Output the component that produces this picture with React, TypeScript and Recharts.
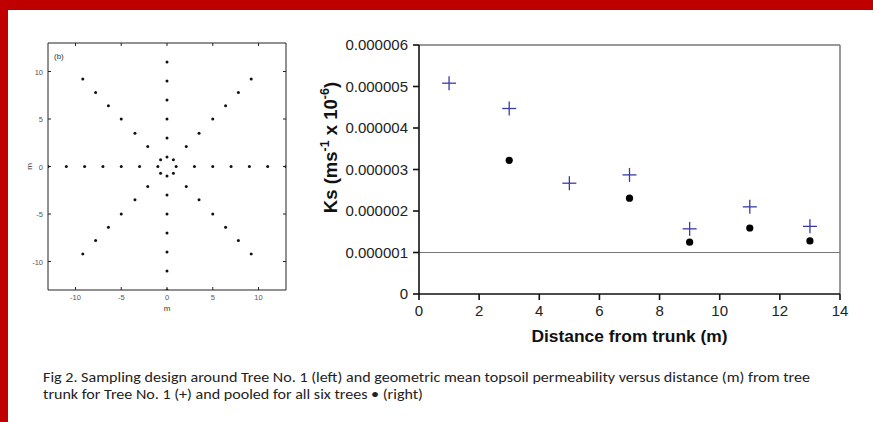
import React from 'react';
import { ScatterChart, Scatter, XAxis, YAxis, ReferenceLine } from 'recharts';

// (b) sampling design around Tree No. 1, distances in m
const axisSteps = [1, 3, 5, 7, 9, 11, 13];
const northSteps = [1, 3, 5, 7, 9, 11];
const diagSteps = [0.7, 2.1, 3.5, 5, 6.4, 7.8, 9.2];
const designTicks = [-10, -5, 0, 5, 10];

// Ks vs distance from trunk
const distance = [1, 3, 5, 7, 9, 11, 13];
const tree1Ks = [0.00000508, 0.00000447, 0.00000267, 0.00000287, 0.00000157, 0.0000021, 0.00000163];
const pooledDistance = [3, 7, 9, 11, 13];
const pooledKs = [0.00000322, 0.00000231, 0.00000125, 0.00000159, 0.00000128];
const distanceTicks = [0, 2, 4, 6, 8, 10, 12, 14];
const ksTicks = [0, 0.000001, 0.000002, 0.000003, 0.000004, 0.000005, 0.000006];
const ksThreshold = 0.000001;

const samplePoints = [
  ...axisSteps.map((r) => ({ x: r, y: 0 })),
  ...axisSteps.map((r) => ({ x: -r, y: 0 })),
  ...northSteps.map((r) => ({ x: 0, y: r })),
  ...axisSteps.map((r) => ({ x: 0, y: -r })),
  ...diagSteps.flatMap((d) => [
    { x: d, y: d },
    { x: -d, y: d },
    { x: d, y: -d },
    { x: -d, y: -d },
  ]),
];

const tree1 = distance.map((x, i) => ({ x, y: tree1Ks[i] }));
const pooled = pooledDistance.map((x, i) => ({ x, y: pooledKs[i] }));

const arial = '"Liberation Sans", Arial, sans-serif';
const blue = '#3a3aa8';

function DesignTick(props: any) {
  const { x, y, payload, side } = props;
  const len = 3;
  const stroke = '#222';
  const txt = { fontSize: 7.5, fill: '#555', fontFamily: arial };
  if (side === 'bottom') {
    return (
      <g>
        <line x1={x} x2={x} y1={y} y2={y - len} stroke={stroke} />
        <text x={x} y={y + 10} textAnchor="middle" {...txt}>{payload.value}</text>
      </g>
    );
  }
  if (side === 'left') {
    return (
      <g>
        <line x1={x} x2={x + len} y1={y} y2={y} stroke={stroke} />
        <text x={x - 5} y={y + 3} textAnchor="end" {...txt}>{payload.value}</text>
      </g>
    );
  }
  if (side === 'top') return <line x1={x} x2={x} y1={y} y2={y + len} stroke={stroke} />;
  return <line x1={x} x2={x - len} y1={y} y2={y} stroke={stroke} />;
}

const PlusShape = (props: any) => {
  const { cx, cy } = props;
  const h = 7;
  return (
    <g stroke={blue} strokeWidth={1.3}>
      <line x1={cx - h} x2={cx + h} y1={cy} y2={cy} />
      <line x1={cx} x2={cx} y1={cy - h} y2={cy + h} />
    </g>
  );
};

const DotShape = (props: any) => <circle cx={props.cx} cy={props.cy} r={3.6} fill="#000" />;

const SampleDot = (props: any) => <circle cx={props.cx} cy={props.cy} r={1.5} fill="#111" />;

const NoShape = () => <g />;

function DesignPanel() {
  return (
    <ScatterChart
      width={300}
      height={320}
      margin={{ top: 42, right: 13, bottom: 2, left: 8 }}
      style={{ position: 'absolute', left: 0, top: 0 }}
    >
      <XAxis
        xAxisId="b"
        type="number"
        dataKey="x"
        domain={[-13, 13]}
        allowDataOverflow
        ticks={designTicks}
        interval={0}
        height={28}
        tickSize={0}
        tickMargin={0}
        tickLine={false}
        axisLine={{ stroke: '#222' }}
        tick={(p: any) => <DesignTick {...p} side="bottom" />}
        label={{
          content: ({ viewBox }: any) => (
            <text x={viewBox.x + viewBox.width / 2} y={viewBox.y + 21} textAnchor="middle" fontSize={8} fill="#333" fontFamily={arial}>m</text>
          ),
        }}
      />
      <XAxis
        xAxisId="t"
        orientation="top"
        type="number"
        dataKey="x"
        domain={[-13, 13]}
        allowDataOverflow
        ticks={designTicks}
        interval={0}
        height={1}
        tickSize={0}
        tickMargin={0}
        tickLine={false}
        axisLine={{ stroke: '#222' }}
        tick={(p: any) => <DesignTick {...p} side="top" />}
        label={{
          content: ({ viewBox }: any) => (
            <text x={viewBox.x + 6} y={viewBox.y + 17} fontSize={8} fill="#333" fontFamily={arial}>(b)</text>
          ),
        }}
      />
      <YAxis
        yAxisId="l"
        type="number"
        dataKey="y"
        domain={[-13, 13]}
        allowDataOverflow
        ticks={designTicks}
        interval={0}
        width={40}
        tickSize={0}
        tickMargin={0}
        tickLine={false}
        axisLine={{ stroke: '#222' }}
        tick={(p: any) => <DesignTick {...p} side="left" />}
        label={{
          content: ({ viewBox }: any) => (
            <text
              x={viewBox.x + 24}
              y={viewBox.y + viewBox.height / 2}
              transform={`rotate(-90, ${viewBox.x + 24}, ${viewBox.y + viewBox.height / 2})`}
              textAnchor="middle"
              fontSize={8}
              fill="#333"
              fontFamily={arial}
            >
              m
            </text>
          ),
        }}
      />
      <YAxis
        yAxisId="r"
        orientation="right"
        type="number"
        dataKey="y"
        domain={[-13, 13]}
        allowDataOverflow
        ticks={designTicks}
        interval={0}
        width={1}
        tickSize={0}
        tickMargin={0}
        tickLine={false}
        axisLine={{ stroke: '#222' }}
        tick={(p: any) => <DesignTick {...p} side="right" />}
      />
      <Scatter xAxisId="t" yAxisId="r" data={samplePoints} shape={NoShape} isAnimationActive={false} />
      <Scatter xAxisId="b" yAxisId="l" data={samplePoints} shape={SampleDot} isAnimationActive={false} />
    </ScatterChart>
  );
}

function KsPanel() {
  return (
    <ScatterChart
      width={583}
      height={360}
      margin={{ top: 45, right: 33, bottom: 16, left: 39 }}
      style={{ position: 'absolute', left: 290, top: 0 }}
    >
      <XAxis
        type="number"
        dataKey="x"
        domain={[0, 14]}
        ticks={distanceTicks}
        interval={0}
        height={50}
        tickSize={6}
        tickMargin={5}
        axisLine={{ stroke: '#111', strokeWidth: 1.6 }}
        tickLine={{ stroke: '#111', strokeWidth: 1.6 }}
        tick={{ fontSize: 15, fill: '#222', fontFamily: arial }}
        label={{
          content: ({ viewBox }: any) => (
            <text x={viewBox.x + viewBox.width / 2} y={342} textAnchor="middle" fontSize={17.4} fontWeight="bold" fill="#111" fontFamily={arial}>
              Distance from trunk (m)
            </text>
          ),
        }}
      />
      <YAxis
        type="number"
        dataKey="y"
        domain={[0, 0.000006]}
        ticks={ksTicks}
        interval={0}
        width={90}
        tickSize={6}
        tickMargin={5}
        tickFormatter={(v: number) => (v === 0 ? '0' : v.toFixed(6))}
        axisLine={{ stroke: '#111', strokeWidth: 1.6 }}
        tickLine={{ stroke: '#111', strokeWidth: 1.6 }}
        tick={{ fontSize: 15, fill: '#222', fontFamily: arial }}
        label={{
          content: ({ viewBox }: any) => {
            const lx = viewBox.x + 8;
            const ly = 147.5;
            return (
              <text
                x={lx}
                y={ly}
                transform={`rotate(-90, ${lx}, ${ly})`}
                textAnchor="middle"
                fontSize={18.5}
                fontWeight="bold"
                fill="#111"
                fontFamily={arial}
              >
                Ks (ms
                <tspan fontSize={12.5} dy={-8}>-1</tspan>
                <tspan dy={8}> x 10</tspan>
                <tspan fontSize={12.5} dy={-8}>-6</tspan>
                <tspan dy={8}>)</tspan>
              </text>
            );
          },
        }}
      />
      <ReferenceLine y={0.000006} stroke="#777" strokeWidth={1.5} />
      <ReferenceLine x={14} stroke="#777" strokeWidth={1.5} />
      <ReferenceLine y={ksThreshold} stroke="#777" strokeWidth={1.2} />
      <Scatter data={tree1} shape={PlusShape} isAnimationActive={false} />
      <Scatter data={pooled} shape={DotShape} isAnimationActive={false} />
    </ScatterChart>
  );
}

export default function App() {
  const captionFont = 'Carlito, "Liberation Sans Narrow", "Open Sans", sans-serif';
  return (
    <div style={{ position: 'absolute', left: 0, top: 0, width: 873, height: 422, background: '#fff', overflow: 'hidden' }}>
      <div style={{ position: 'absolute', left: 0, top: 0, width: 873, height: 10, background: '#c00000' }} />
      <div style={{ position: 'absolute', left: 0, top: 0, width: 8, height: 422, background: '#c00000' }} />
      <DesignPanel />
      <KsPanel />
      <svg width={873} height={422} style={{ position: 'absolute', left: 0, top: 0, pointerEvents: 'none' }}>
        <text x={43} y={381.5} fontSize={14.7} fill="#222" fontFamily={captionFont} textLength={767} lengthAdjust="spacingAndGlyphs">
          Fig 2. Sampling design around Tree No. 1 (left) and geometric mean topsoil permeability versus distance (m) from tree
        </text>
        <text x={43} y={399.3} fontSize={14.7} fill="#222" fontFamily={captionFont} textLength={380} lengthAdjust="spacingAndGlyphs">
          trunk for Tree No. 1 (+) and pooled for all six trees • (right)
        </text>
      </svg>
    </div>
  );
}
